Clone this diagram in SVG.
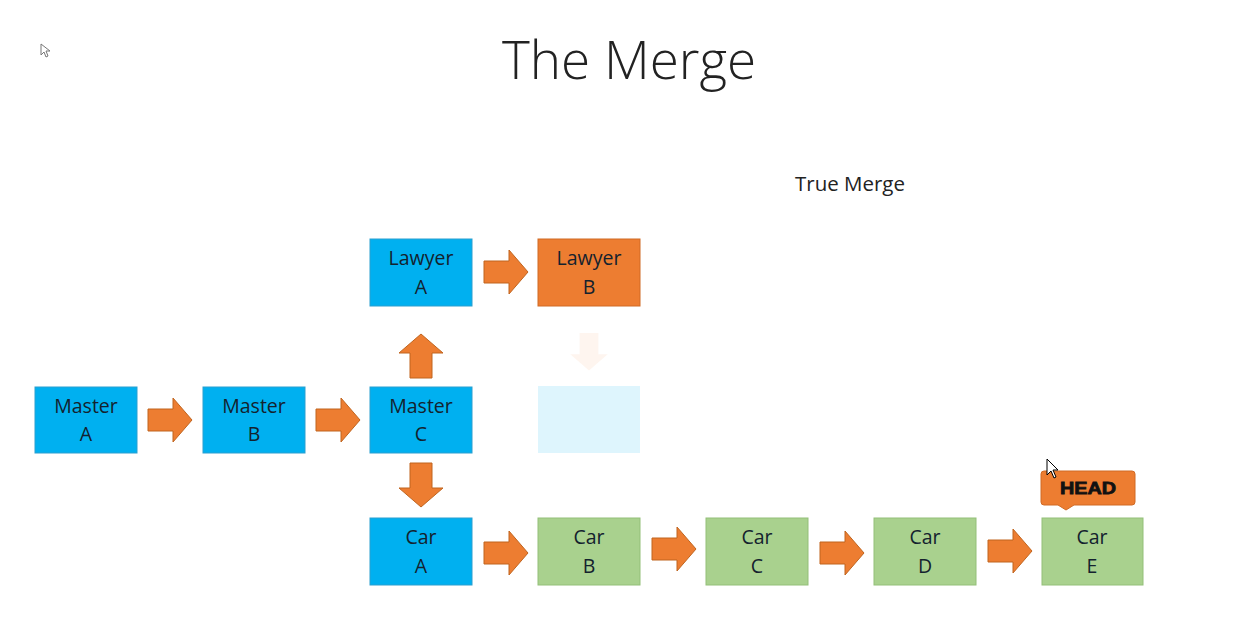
<svg xmlns="http://www.w3.org/2000/svg" width="1245" height="630" viewBox="0 0 1245 630">
  <style>
    .lbl { font-family: "Open Sans", "Liberation Sans", sans-serif; font-size: 19.5px; fill: #14222e; text-anchor: middle; }
    .blue { fill: #00b0f0; stroke: #2a9fd0; stroke-width: 1; }
    .orange { fill: #ed7d31; stroke: #d06a25; stroke-width: 1; }
    .green { fill: #a9d18e; stroke: #93bf78; stroke-width: 1; }
    .arrow { fill: #ed7d31; stroke: #c0651f; stroke-width: 1; }
  </style>
  <defs>
    <!-- block arrow pointing right, 44 x 44, origin at left-middle -->
    <path id="blk" d="M0,-11 H25 V-22 L44,0 L25,22 V11 H0 Z"/>
  </defs>
  <rect width="1245" height="630" fill="#ffffff"/>

  <text x="629" y="79" font-family="Open Sans, Liberation Sans, sans-serif" font-weight="300" font-size="53" fill="#222" text-anchor="middle">The Merge</text>
  <text x="850" y="191" font-family="Open Sans, Liberation Sans, sans-serif" font-size="20.5" fill="#222" text-anchor="middle">True Merge</text>

  <!-- connectors -->
  <g id="connectors">
    <use href="#blk" class="arrow" transform="translate(148,420)"/>
    <use href="#blk" class="arrow" transform="translate(316,420)"/>
    <use href="#blk" class="arrow" transform="translate(484,272)"/>
    <use href="#blk" class="arrow" transform="translate(421,378) rotate(-90)"/>
    <use href="#blk" class="arrow" transform="translate(421,463) rotate(90)"/>
    <use href="#blk" class="arrow" transform="translate(484,553)"/>
    <use href="#blk" class="arrow" transform="translate(652,549)"/>
    <use href="#blk" class="arrow" transform="translate(820,553)"/>
    <use href="#blk" class="arrow" transform="translate(988,551)"/>
    <use href="#blk" transform="translate(589,333) rotate(90) scale(0.85)" fill="#ed7d31" opacity="0.08"/>
  </g>

  <g id="master-a"><rect class="blue" x="35" y="387" width="102" height="66"/><text class="lbl" x="86" y="413">Master</text><text class="lbl" x="86" y="441">A</text></g>
  <g id="master-b"><rect class="blue" x="203" y="387" width="102" height="66"/><text class="lbl" x="254" y="413">Master</text><text class="lbl" x="254" y="441">B</text></g>
  <g id="master-c"><rect class="blue" x="370" y="387" width="102" height="66"/><text class="lbl" x="421" y="413">Master</text><text class="lbl" x="421" y="441">C</text></g>
  <g id="lawyer-a"><rect class="blue" x="370" y="239" width="102" height="67"/><text class="lbl" x="421" y="265">Lawyer</text><text class="lbl" x="421" y="294">A</text></g>
  <g id="lawyer-b"><rect class="orange" x="538" y="239" width="102" height="67"/><text class="lbl" x="589" y="265">Lawyer</text><text class="lbl" x="589" y="294">B</text></g>
  <g id="faded-node" opacity="0.13"><rect x="538" y="386" width="102" height="67" fill="#00b0f0"/></g>
  <g id="car-a"><rect class="blue" x="370" y="518" width="102" height="67"/><text class="lbl" x="421" y="544">Car</text><text class="lbl" x="421" y="573">A</text></g>
  <g id="car-b"><rect class="green" x="538" y="518" width="102" height="67"/><text class="lbl" x="589" y="544">Car</text><text class="lbl" x="589" y="573">B</text></g>
  <g id="car-c"><rect class="green" x="706" y="518" width="102" height="67"/><text class="lbl" x="757" y="544">Car</text><text class="lbl" x="757" y="573">C</text></g>
  <g id="car-d"><rect class="green" x="874" y="518" width="102" height="67"/><text class="lbl" x="925" y="544">Car</text><text class="lbl" x="925" y="573">D</text></g>
  <g id="car-e"><rect class="green" x="1042" y="518" width="101" height="67"/><text class="lbl" x="1092" y="544">Car</text><text class="lbl" x="1092" y="573">E</text></g>

  <g id="head">
    <path d="M1044,471 H1132 Q1135,471 1135,474 V502 Q1135,505 1132,505 H1074 L1066,510 L1058,505 H1044 Q1041,505 1041,502 V474 Q1041,471 1044,471 Z" fill="#ed7d31" stroke="#d06a25"/>
    <text x="1088" y="494" font-family="Liberation Sans, Arial, sans-serif" font-weight="bold" font-size="17" fill="#111" stroke="#111" stroke-width="0.8" text-anchor="middle" textLength="56" lengthAdjust="spacingAndGlyphs">HEAD</text>
  </g>

  <!-- pointer cursors -->
  <path d="M41,44 L41,55 L44,52 L46,57 L48,56 L46,51 L50,51 Z" fill="#fff" stroke="#777" stroke-width="1"/>
  <path d="M1047,459 L1047,475 L1051,471 L1054,478 L1056,477 L1053,470 L1058,470 Z" fill="#fff" stroke="#000" stroke-width="1"/>
</svg>
